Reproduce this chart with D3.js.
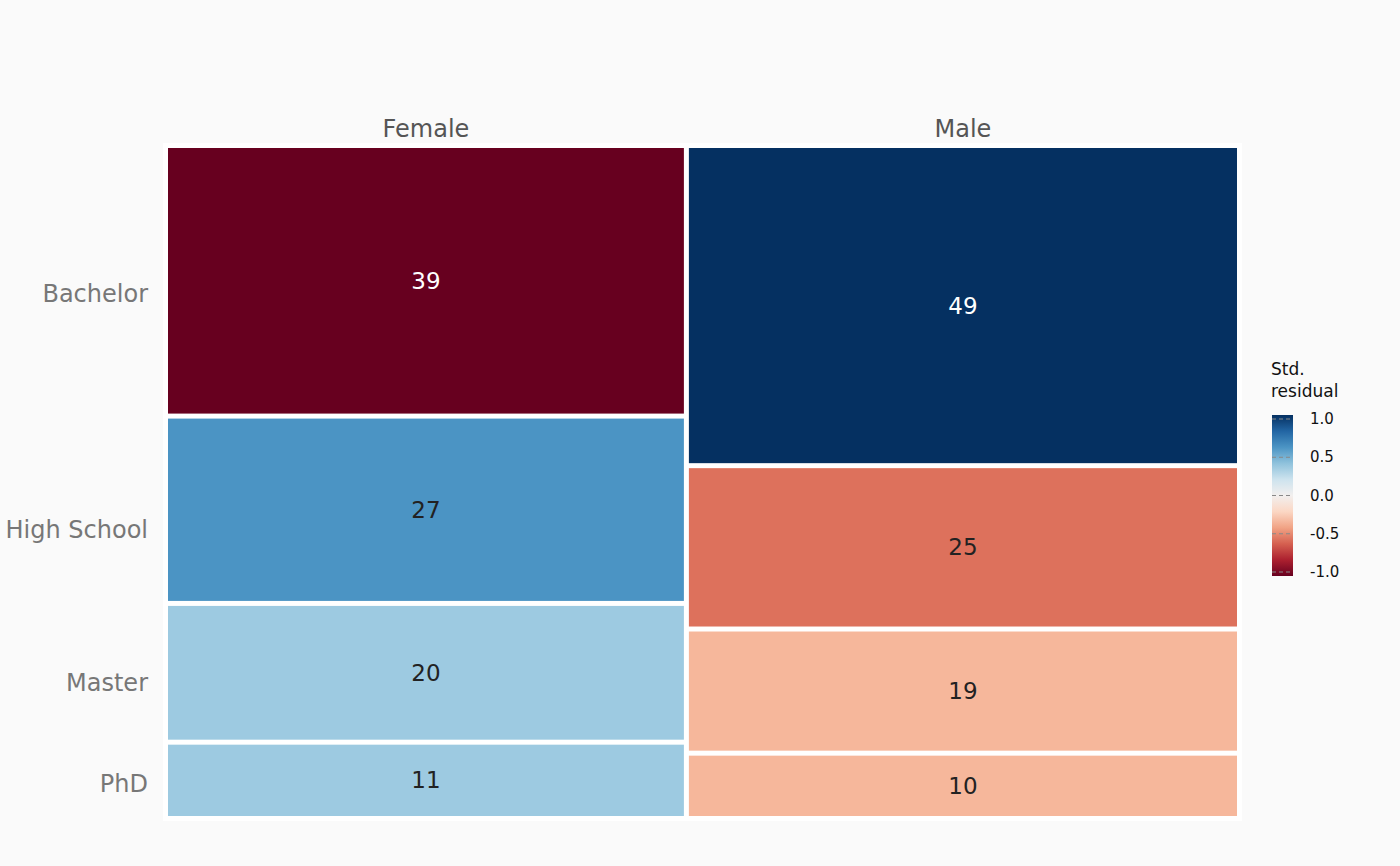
<!DOCTYPE html>
<html><head><meta charset="utf-8">
<script src="https://cdn.jsdelivr.net/npm/d3@7"></script>
<style>body{margin:0;background:#fafafa;font-family:"DejaVu Sans",sans-serif}</style>
</head><body><svg id="c" width="1400" height="866"></svg>
<script>
const genders=["Female","Male"];
const levels=["Bachelor","High School","Master","PhD"];
const counts={Female:[39,27,20,11],Male:[49,25,19,10]};
const residuals={Female:[-1.0,0.6,0.36,0.36],Male:[1.0,-0.55,-0.33,-0.33]};
const legendTicks=[1.0,0.5,0.0,-0.5,-1.0];

const svg=d3.select("#c");
const gap=5, x0=168, x1=1237+gap, y0=148, y1=816+gap;
const totals=genders.map(g=>d3.sum(counts[g]));
const grand=d3.sum(totals);
const x=d3.scaleLinear().domain([0,grand]).range([x0,x1]);
const color=v=>d3.interpolateRdBu((v+1)/2);

svg.append("rect").attr("x",x0-5).attr("y",y0-5).attr("width",x1-x0+5).attr("height",y1-y0+5).attr("fill","#fff");

const centers=levels.map(()=>[]);
let cx=0;
genders.forEach((g,gi)=>{
  const tot=totals[gi];
  const y=d3.scaleLinear().domain([0,tot]).range([y0,y1]);
  const xa=x(cx), xb=x(cx+tot)-gap;
  svg.append("text").attr("x",(xa+xb)/2).attr("y",137).attr("text-anchor","middle")
    .attr("font-size",24).attr("fill","#555").text(g);
  let cy=0;
  counts[g].forEach((v,li)=>{
    const ya=y(cy), yb=y(cy+v)-gap;
    const r=residuals[g][li];
    svg.append("rect").attr("x",xa).attr("y",ya).attr("width",xb-xa).attr("height",yb-ya).attr("fill",color(r));
    svg.append("text").attr("x",(xa+xb)/2).attr("y",(ya+yb)/2+8).attr("text-anchor","middle")
      .attr("font-size",23).attr("fill",Math.abs(r)>0.8?"#fff":"#222").text(v);
    centers[li].push((ya+yb)/2);
    cy+=v;
  });
  cx+=tot;
});
levels.forEach((l,li)=>{
  svg.append("text").attr("x",148).attr("y",d3.mean(centers[li])+9).attr("text-anchor","end")
    .attr("font-size",24).attr("fill","#777").text(l);
});

// legend
svg.append("text").attr("x",1271).attr("y",375).attr("font-size",17).attr("fill","#111").text("Std.");
svg.append("text").attr("x",1271).attr("y",397).attr("font-size",17).attr("fill","#111").text("residual");
const ly=d3.scaleLinear().domain([-1,1]).range([572,419]);
const defs=svg.append("defs");
const grad=defs.append("linearGradient").attr("id","g").attr("x1",0).attr("y1",1).attr("x2",0).attr("y2",0);
d3.range(0,1.0001,0.1).forEach(t=>grad.append("stop").attr("offset",t).attr("stop-color",color(t*2-1)));
svg.append("rect").attr("x",1272).attr("y",415).attr("width",21).attr("height",161).attr("fill","url(#g)");
legendTicks.forEach(t=>{
  svg.append("line").attr("x1",1272).attr("x2",1293).attr("y1",ly(t)).attr("y2",ly(t))
    .attr("stroke","#888").attr("stroke-dasharray","4,3");
  svg.append("text").attr("x",1310).attr("y",ly(t)+5).attr("font-size",15).attr("fill","#111").text(t.toFixed(1));
});
</script></body></html>
